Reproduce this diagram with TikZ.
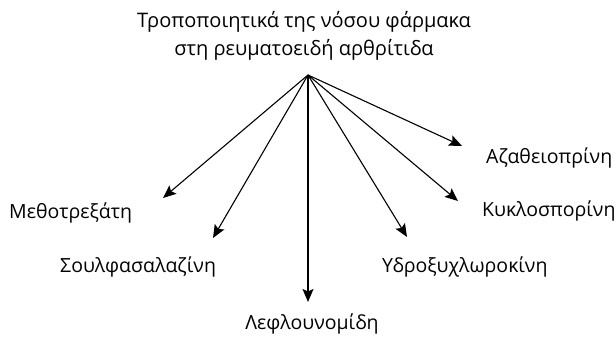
\documentclass[tikz,border=0pt]{standalone}
\usepackage{fontspec}
\setmainfont{Open Sans}
\usetikzlibrary{arrows.meta}
\begin{document}
\begin{tikzpicture}[x=1pt,y=-1pt,
  lbl/.style={inner sep=0pt,font=\fontsize{19.5}{28}\selectfont},
  ttl/.style={inner sep=0pt,align=center,font=\fontsize{20}{28}\selectfont},
  arr/.style={line width=1.1pt,-{Stealth[length=13pt,width=11pt,inset=2.5pt]}}]
\useasboundingbox (0,0) rectangle (616,339);
\node[ttl] (title) at (304,36) {Τροποποιητικά της νόσου φάρμακα\\στη ρευματοειδή αρθρίτιδα};
\coordinate (hub) at (308,75);
\coordinate (t1) at (163,198);
\coordinate (t2) at (213,238);
\coordinate (t3) at (308,302);
\coordinate (t4) at (407,237);
\coordinate (t5) at (458,201);
\coordinate (t6) at (462,146);
\node[lbl,anchor=west] (m) at (9,213) {Μεθοτρεξάτη};
\node[lbl,anchor=west] (s) at (60,267) {Σουλφασαλαζίνη};
\node[lbl] (l) at (312,324) {Λεφλουνομίδη};
\node[lbl,anchor=west] (y) at (382,267) {Υδροξυχλωροκίνη};
\node[lbl,anchor=west] (k) at (482,211) {Κυκλοσπορίνη};
\node[lbl,anchor=west] (a) at (486,158) {Αζαθειοπρίνη};
\foreach \t in {t1,t2,t3,t4,t5,t6} \draw[arr] (hub) -- (\t);
\end{tikzpicture}
\end{document}
